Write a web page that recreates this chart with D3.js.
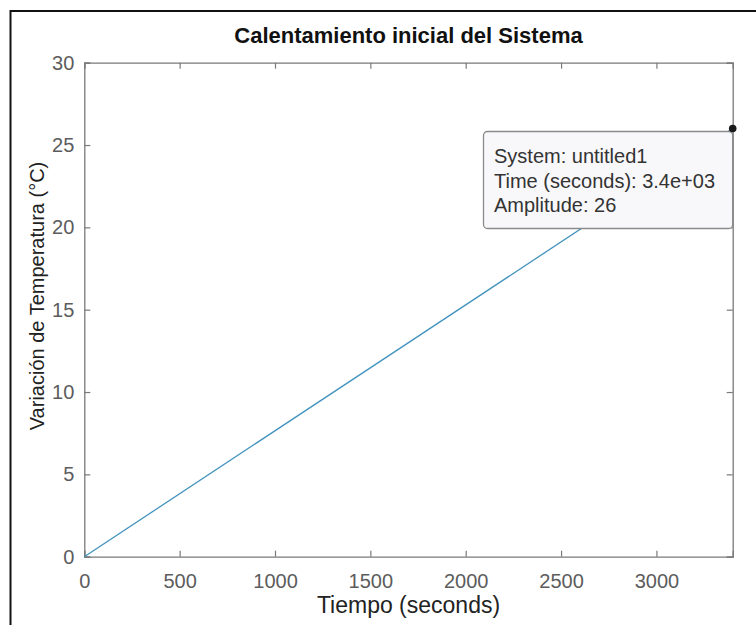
<!DOCTYPE html>
<html>
<head>
<meta charset="utf-8">
<script src="https://cdn.jsdelivr.net/npm/d3@7"></script>
<style>
  html, body { margin: 0; padding: 0; background: #fff; }
  svg { display: block; font-family: Arial, "Liberation Sans", Helvetica, sans-serif; }
</style>
</head>
<body>
<svg id="chart" width="756" height="625"></svg>
<script>
// Step response samples (time in seconds, temperature rise in °C)
const timeSeconds = [0, 3400];
const amplitude = [0, 26];

const xTicks = [0, 500, 1000, 1500, 2000, 2500, 3000];
const yTicks = [0, 5, 10, 15, 20, 25, 30];

const titleText = "Calentamiento inicial del Sistema";
const xLabelText = "Tiempo (seconds)";
const yLabelText = "Variación de Temperatura (°C)";
const tipSystem = "untitled1";

const svg = d3.select("#chart");
const W = 756, H = 625;
const plot = { left: 84.3, right: 732.7, top: 62.7, bottom: 556.7 };

const x = d3.scaleLinear().domain([0, 3400]).range([plot.left, plot.right]);
const y = d3.scaleLinear().domain([0, 30]).range([plot.bottom, plot.top]);

// Figure frame
svg.append("rect")
  .attr("x", 10.5).attr("y", 11).attr("width", W + 20).attr("height", H + 20)
  .attr("fill", "#fff").attr("stroke", "#111").attr("stroke-width", 2);

const axisColor = "#7a7a7a";
const tickTextColor = "#5c5c5c";
const tickLen = 6;

function styleAxis(g) {
  g.select(".domain").attr("stroke", axisColor).attr("stroke-width", 1.3);
  g.selectAll(".tick line").attr("stroke", axisColor).attr("stroke-width", 1.2);
  g.selectAll(".tick text").attr("fill", tickTextColor)
    .style("font-size", "20px").style("font-family", "Arial, 'Liberation Sans', sans-serif");
}

// Bottom axis (ticks pointing inward)
const gx = svg.append("g").attr("transform", `translate(0,${plot.bottom})`)
  .call(d3.axisBottom(x).tickValues(xTicks).tickSize(-tickLen).tickPadding(17).tickFormat(d3.format("d")))
  .call(styleAxis);
gx.selectAll(".tick text").attr("dy", "0.71em");

// Top axis (mirrored ticks, no labels)
svg.append("g").attr("transform", `translate(0,${plot.top})`)
  .call(d3.axisTop(x).tickValues(xTicks).tickSize(-tickLen).tickFormat(""))
  .call(styleAxis);

// Left axis
svg.append("g").attr("transform", `translate(${plot.left},0)`)
  .call(d3.axisLeft(y).tickValues(yTicks).tickSize(-tickLen).tickPadding(10).tickFormat(d3.format("d")))
  .call(styleAxis);

// Right axis (mirrored ticks)
svg.append("g").attr("transform", `translate(${plot.right},0)`)
  .call(d3.axisRight(y).tickValues(yTicks).tickSize(-tickLen).tickFormat(""))
  .call(styleAxis);

// Response line
const pts = timeSeconds.map((t, i) => [t, amplitude[i]]);
svg.append("path")
  .datum(pts)
  .attr("fill", "none")
  .attr("stroke", "#4293be")
  .attr("stroke-width", 1.3)
  .attr("d", d3.line().x(d => x(d[0])).y(d => y(d[1])));

// Title and axis labels
svg.append("text")
  .attr("x", (plot.left + plot.right) / 2).attr("y", 43)
  .attr("text-anchor", "middle")
  .style("font-size", "22px").style("font-weight", "bold").attr("fill", "#111")
  .text(titleText);

svg.append("text")
  .attr("x", (plot.left + plot.right) / 2).attr("y", 613)
  .attr("text-anchor", "middle")
  .style("font-size", "23px").attr("fill", "#222")
  .text(xLabelText);

svg.append("text")
  .attr("transform", `translate(44,296) rotate(-90)`)
  .attr("text-anchor", "middle")
  .style("font-size", "20px").attr("fill", "#222")
  .text(yLabelText);

// Data tip at the last sample
const last = pts[pts.length - 1];
const tipX = x(last[0]), tipY = y(last[1]);
const box = { x0: 483.5, y0: 131.5, x1: tipX, y1: 228.5 };

svg.append("rect")
  .attr("x", box.x0).attr("y", box.y0)
  .attr("width", box.x1 - box.x0).attr("height", box.y1 - box.y0)
  .attr("rx", 4).attr("ry", 4)
  .attr("fill", "#f8f8fb").attr("stroke", "#8a8a8a").attr("stroke-width", 1.3);

const tipLines = [
  `System: ${tipSystem}`,
  `Time (seconds): ${d3.format(".1e")(last[0]).replace(/e\+(\d)$/, "e+0$1")}`,
  `Amplitude: ${d3.format("d")(last[1])}`
];
svg.append("g").selectAll("text").data(tipLines).join("text")
  .attr("x", 494).attr("y", (d, i) => 163 + i * 24.5)
  .style("font-size", "20px").attr("fill", "#333")
  .text(d => d);

svg.append("circle")
  .attr("cx", tipX).attr("cy", tipY).attr("r", 3.8)
  .attr("fill", "#1a1a1a");
</script>
</body>
</html>
